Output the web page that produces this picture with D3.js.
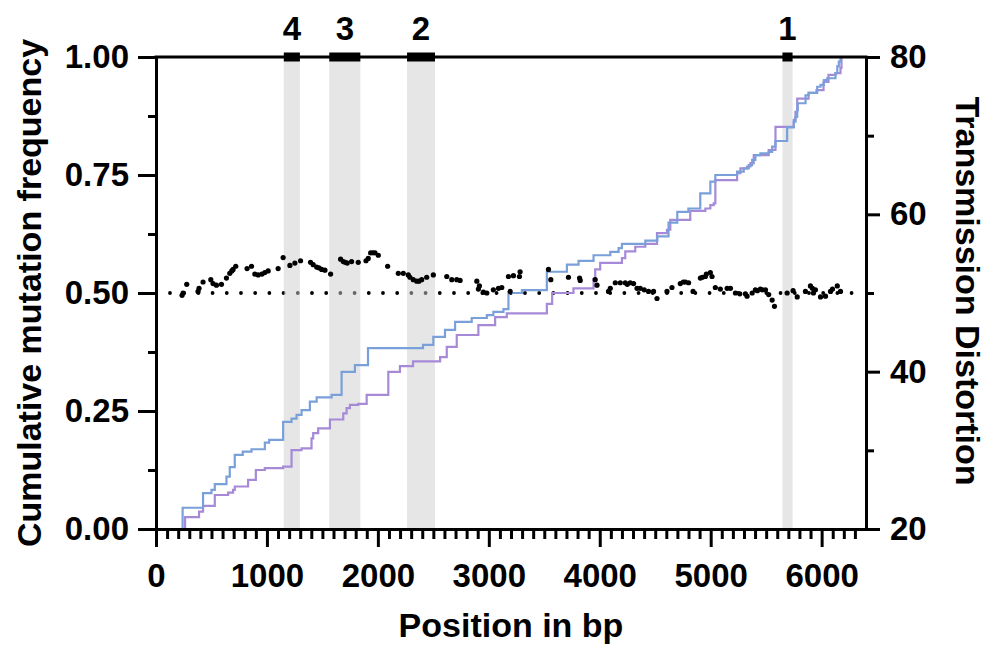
<!DOCTYPE html>
<html>
<head>
<meta charset="utf-8">
<script src="https://cdn.jsdelivr.net/npm/d3@7/dist/d3.min.js"></script>
<style>
body { margin: 0; background: #fff; }
text { font-family: "Liberation Sans", Arial, sans-serif; font-weight: bold; fill: #000; }
</style>
</head>
<body>
<div id="viz"></div>
<script>
// cumulative mutation frequency, series A (blue) and B (purple)
var cumAPos = [230,240,424,500,530,635,665,710,782,861,981,1020,1146,1222,1267,1312,1387,1448,1583,1673,1793,1911,2407,2500,2605,2696,2846,2982,3041,3132,3177,3298,3523,3704,3809,3944,4095,4170,4200,4411,4519,4620,4699,4799,4906,4997,5042,5238,5298,5343,5374,5403,5448,5523,5554,5584,5689,5749,5764,5780,5785,5855,5884,5960,5990,6020,6050,6125,6141,6155,6170];
var cumAFreq = [0,0.045,0.076,0.083,0.095,0.111,0.131,0.157,0.164,0.169,0.183,0.189,0.227,0.234,0.242,0.252,0.270,0.279,0.284,0.333,0.347,0.383,0.390,0.407,0.422,0.439,0.447,0.453,0.460,0.466,0.500,0.506,0.545,0.560,0.568,0.580,0.587,0.595,0.604,0.611,0.620,0.649,0.672,0.679,0.711,0.736,0.750,0.757,0.764,0.771,0.782,0.792,0.796,0.799,0.810,0.822,0.851,0.863,0.873,0.888,0.902,0.919,0.924,0.937,0.941,0.951,0.955,0.966,0.980,0.990,1.0];

var cumBPos = [258,262,388,424,530,650,695,710,830,900,981,1146,1222,1312,1402,1417,1462,1568,1688,1718,1748,1823,1899,2094,2199,2317,2561,2621,2711,2906,3057,3162,3523,3571,3763,3944,3959,4004,4200,4230,4320,4411,4516,4606,4636,4816,4952,4997,5027,5042,5238,5268,5328,5358,5388,5523,5584,5749,5764,5780,5882,5954,6017,6062,6125,6170,6179];
var cumBFreq = [0,0.025,0.037,0.049,0.072,0.077,0.083,0.090,0.104,0.125,0.129,0.132,0.167,0.171,0.192,0.203,0.213,0.232,0.245,0.256,0.263,0.265,0.284,0.333,0.345,0.355,0.364,0.386,0.411,0.432,0.449,0.457,0.477,0.500,0.510,0.530,0.550,0.564,0.574,0.588,0.598,0.604,0.627,0.634,0.655,0.674,0.679,0.686,0.690,0.739,0.754,0.764,0.768,0.775,0.792,0.803,0.852,0.867,0.884,0.912,0.924,0.930,0.947,0.962,0.966,0.977,1.0];

// transmission distortion per position
var tdPos = [235,244,277,379,388,424,494,514,545,590,635,665,683,695,719,821,861,891,921,955,981,1011,1101,1146,1207,1252,1303,1393,1417,1448,1468,1493,1523,1574,1664,1688,1706,1724,1763,1823,1893,1913,1935,1956,1974,2004,2088,2184,2229,2274,2289,2319,2350,2370,2395,2440,2500,2621,2666,2711,2741,2892,2906,2915,2951,2982,3041,3087,3117,3177,3192,3222,3276,3282,3538,3559,3718,3818,3824,3959,3975,4079,4095,4140,4185,4230,4248,4275,4305,4336,4365,4401,4440,4485,4516,4606,4651,4726,4753,4772,4801,4841,4907,4925,4952,4961,4997,5012,5042,5087,5148,5178,5223,5262,5313,5328,5374,5403,5421,5448,5466,5494,5523,5554,5575,5689,5743,5780,5854,5899,5917,5926,5944,5990,6035,6080,6098,6141,6170];
var tdVal = [49.7,50.0,51.1,50.2,50.6,51.4,51.7,51.2,51.0,51.1,51.9,52.5,52.8,53.0,53.4,53.1,53.4,52.4,52.3,52.4,52.6,52.8,53.1,54.5,53.5,53.8,54.1,53.9,53.6,53.3,53.2,53.0,52.9,52.4,54.3,54.0,53.9,53.8,54.0,53.9,54.1,54.4,55.1,55.1,55.1,54.8,53.4,52.5,52.5,52.3,52.0,51.7,51.5,51.5,51.7,52.0,52.3,52.1,51.7,51.7,51.6,51.5,50.5,50.9,50.1,50.0,50.4,50.6,50.7,52.1,50.2,52.2,52.1,52.7,53.0,51.7,52.0,51.9,51.6,51.7,51.0,50.2,50.6,51.3,51.3,51.3,51.1,51.3,51.2,50.6,50.6,50.4,50.2,50.2,49.3,50.2,50.7,51.2,51.4,51.4,51.3,50.2,51.9,52.0,52.1,52.4,52.6,52.1,50.7,50.5,50.6,50.6,50.0,49.9,49.9,49.6,50.0,50.4,50.3,50.5,50.4,50.4,49.8,49.1,48.3,50.0,50.3,49.5,50.2,50.9,50.6,50.0,50.4,49.5,49.6,50.2,50.5,50.9,50.2];

// highlighted regions
var regionLabels = ["1","2","3","4"];
var regionStart = [5647,2263,1562,1152];
var regionEnd = [5738,2515,1842,1297];

// reference level and tick values
var tdExpected = 50;
var refStart = 126, refEnd = 6303;
var xMajor = [0,1000,2000,3000,4000,5000,6000];
var yLeftMajor = [0,0.25,0.5,0.75,1];
var yLeftMinor = [0.125,0.375,0.625,0.875];
var yRightMajor = [20,40,60,80];
var yRightMinor = [30,50,70];

var W = 994, H = 651;
var BLUE = "#7aa0da", PURPLE = "#a68ad8";

var svg = d3.select("#viz").append("svg")
	.attr("width", W)
	.attr("height", H);

var x = d3.scaleLinear().domain([0, 6400]).range([156, 866]);
var yL = d3.scaleLinear().domain([0, 1]).range([529, 57]);
var yR = d3.scaleLinear().domain([20, 80]).range([529, 57]);

var xMinor = d3.range(100, 6400, 100).filter(function(v) { return v % 1000 != 0; });

// dotted 50% line (sits under the bands, so its dots look grey there)
svg.append("line")
	.attr("x1", x(refStart)).attr("x2", x(refEnd))
	.attr("y1", yR(tdExpected)).attr("y2", yR(tdExpected))
	.attr("stroke", "#000")
	.attr("stroke-width", 3.8)
	.attr("stroke-linecap", "round")
	.attr("stroke-dasharray", "0 14.2");

// grey bands
svg.selectAll("rect.band")
	.data(regionLabels)
	.enter().append("rect")
	.attr("class", "band")
	.attr("x", function(d, i) { return x(regionStart[i]); })
	.attr("width", function(d, i) { return x(regionEnd[i]) - x(regionStart[i]); })
	.attr("y", yL(1))
	.attr("height", yL(0) - yL(1))
	.attr("fill", "#cdcdcd")
	.attr("fill-opacity", 0.5);

// step lines
var stepLine = d3.line()
	.x(function(d) { return x(d[0]); })
	.y(function(d) { return yL(d[1]); })
	.curve(d3.curveStepAfter);

var seriesB = cumBPos.map(function(p, i) { return [p, cumBFreq[i]]; });
var seriesA = cumAPos.map(function(p, i) { return [p, cumAFreq[i]]; });

svg.append("path")
	.attr("d", stepLine(seriesB))
	.attr("fill", "none")
	.attr("stroke", PURPLE)
	.attr("stroke-width", 2.2);

svg.append("path")
	.attr("d", stepLine(seriesA))
	.attr("fill", "none")
	.attr("stroke", BLUE)
	.attr("stroke-width", 2.2);

// scatter
svg.selectAll("circle.td")
	.data(tdPos)
	.enter().append("circle")
	.attr("class", "td")
	.attr("cx", function(d) { return x(d); })
	.attr("cy", function(d, i) { return yR(tdVal[i]); })
	.attr("r", 2.6)
	.attr("fill", "#000");

// axes
var styleAxis = function(g) {
	g.selectAll("path.domain").attr("stroke-width", 3).attr("stroke-linecap", "square");
	g.selectAll(".tick line").attr("stroke-width", 3);
	g.selectAll("text")
		.attr("font-size", 33)
		.attr("font-family", "'Liberation Sans', Arial, sans-serif")
		.attr("font-weight", "bold")
		.attr("fill", "#000");
};

var gxMinor = svg.append("g")
	.attr("transform", "translate(0," + yL(0) + ")")
	.call(d3.axisBottom(x).tickValues(xMinor).tickSize(10).tickSizeOuter(0).tickFormat(""));
gxMinor.select("path.domain").remove();
styleAxis(gxMinor);

var gx = svg.append("g")
	.attr("transform", "translate(0," + yL(0) + ")")
	.call(d3.axisBottom(x).tickValues(xMajor).tickSize(18).tickSizeOuter(0).tickPadding(17).tickFormat(d3.format("d")));
styleAxis(gx);

var gyMinor = svg.append("g")
	.attr("transform", "translate(" + x(0) + ",0)")
	.call(d3.axisLeft(yL).tickValues(yLeftMinor).tickSize(8).tickSizeOuter(0).tickFormat(""));
gyMinor.select("path.domain").remove();
styleAxis(gyMinor);

var gy = svg.append("g")
	.attr("transform", "translate(" + x(0) + ",0)")
	.call(d3.axisLeft(yL).tickValues(yLeftMajor).tickSize(18).tickSizeOuter(0).tickPadding(9).tickFormat(d3.format(".2f")));
styleAxis(gy);

var grMinor = svg.append("g")
	.attr("transform", "translate(" + x(6400) + ",0)")
	.call(d3.axisRight(yR).tickValues(yRightMinor).tickSize(8).tickSizeOuter(0).tickFormat(""));
grMinor.select("path.domain").remove();
styleAxis(grMinor);

var gr = svg.append("g")
	.attr("transform", "translate(" + x(6400) + ",0)")
	.call(d3.axisRight(yR).tickValues(yRightMajor).tickSize(14).tickSizeOuter(0).tickPadding(10).tickFormat(d3.format("d")));
styleAxis(gr);

// top line with region markers
svg.append("line")
	.attr("x1", x(0)).attr("x2", x(6400))
	.attr("y1", yL(1)).attr("y2", yL(1))
	.attr("stroke", "#000")
	.attr("stroke-width", 3)
	.attr("stroke-linecap", "square");

svg.selectAll("rect.marker")
	.data(regionLabels)
	.enter().append("rect")
	.attr("class", "marker")
	.attr("x", function(d, i) { return x(regionStart[i]); })
	.attr("width", function(d, i) { return x(regionEnd[i]) - x(regionStart[i]); })
	.attr("y", yL(1) - 4.5)
	.attr("height", 9)
	.attr("fill", "#000");

svg.selectAll("text.region")
	.data(regionLabels)
	.enter().append("text")
	.attr("class", "region")
	.attr("x", function(d, i) { return (x(regionStart[i]) + x(regionEnd[i])) / 2; })
	.attr("y", 40)
	.attr("text-anchor", "middle")
	.attr("font-size", 33)
	.text(function(d) { return d; });

// titles
svg.append("text")
	.attr("transform", "translate(41," + yL(0.5) + ") rotate(-90)")
	.attr("text-anchor", "middle")
	.attr("font-size", 34)
	.text("Cumulative mutation frequency");

svg.append("text")
	.attr("transform", "translate(956," + (yL(0.5) - 2) + ") rotate(90)")
	.attr("text-anchor", "middle")
	.attr("font-size", 34)
	.text("Transmission Distortion");

svg.append("text")
	.attr("x", (x(0) + x(6400)) / 2)
	.attr("y", 637)
	.attr("text-anchor", "middle")
	.attr("font-size", 34)
	.text("Position in bp");
</script>
</body>
</html>
